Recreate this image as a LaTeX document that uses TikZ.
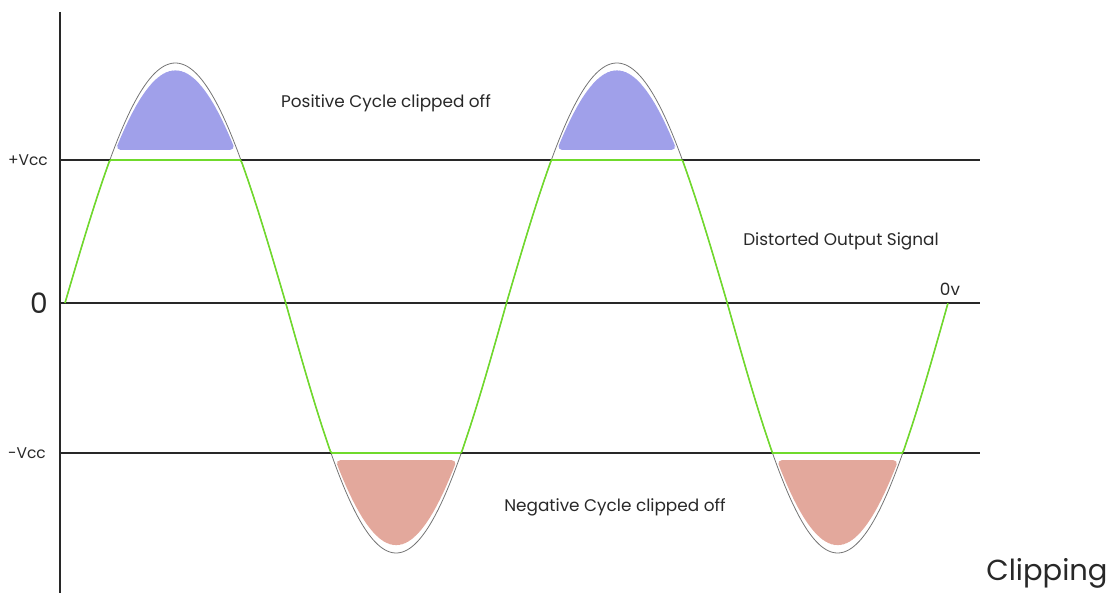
\documentclass[tikz,border=0pt]{standalone}
\usepackage{fontspec}
\setmainfont{Poppins}
\definecolor{sigreen}{RGB}{112,218,44}
\definecolor{capblue}{RGB}{160,160,234}
\definecolor{capred}{RGB}{227,168,156}
\definecolor{inkgray}{RGB}{40,40,40}

\begin{document}
\begin{tikzpicture}[x=1cm, y=1cm,
    every node/.style={font=\fontsize{9.6}{11}\selectfont, text=inkgray},
    sidelabel/.style={anchor=east, font=\fontsize{8.8}{10}\selectfont},
    levelline/.style={draw=inkgray, line width=0.6pt},
    rawwave/.style={draw=black!55, line width=0.45pt},
    cutwave/.style={draw=sigreen, line width=0.9pt},
    declare function={
        ph(\x)=sin(180*(\x-0.1)/4.415);
        wave(\x)=(ph(\x)>0)*4.8*ph(\x)+(ph(\x)<=0)*5.0*ph(\x);
        cutw(\x)=max(min(wave(\x),2.86),-3.0);
    }]
    \useasboundingbox (-1.2,-5.8) rectangle (21.1,6.06);

    % --- clipped-off caps ---
    \foreach \c in {2.3075, 11.1375}
        \fill[capblue, rounded corners=3pt]
            plot[domain=-1.198:1.198, samples=40] ({\c+\x}, {4.65*cos(180*\x/4.415)}) -- cycle;
    \foreach \c in {6.7225, 15.5525}
        \fill[capred, rounded corners=3pt]
            plot[domain=-1.215:1.215, samples=40] ({\c+\x}, {-4.84*cos(180*\x/4.415)}) -- cycle;

    % --- full input sine ---
    \draw[rawwave] plot[domain=0.1:17.76, samples=500] (\x, {wave(\x)});

    % --- axis and levels ---
    \draw[levelline] (0,5.82) -- (0,-5.8);
    \foreach \lv in {2.86, 0, -3.0}
        \draw[levelline] (0,\lv) -- (18.4,\lv);

    % --- clipped output ---
    \draw[cutwave] plot[domain=0.1:17.76, samples=600] (\x, {cutw(\x)});

    % --- labels ---
    \node[sidelabel] (vpos) at (-0.12,2.86) {+Vcc};
    \node[sidelabel, font=\fontsize{16}{18}\selectfont] (vzero) at (-0.12,0) {0};
    \node[sidelabel] (vneg) at (-0.16,-3.0) {-Vcc};
    \node (postxt) at (6.52,4.0) {Positive Cycle clipped off};
    \node (outtxt) at (15.62,1.24) {Distorted Output Signal};
    \node[anchor=south] (zerov) at (17.8,0.02) {0v};
    \node (negtxt) at (11.1,-4.08) {Negative Cycle clipped off};
    \node[anchor=base, font=\fontsize{16.5}{18}\selectfont] (cliptxt) at (19.74,-5.54) {Clipping};
\end{tikzpicture}
\end{document}
